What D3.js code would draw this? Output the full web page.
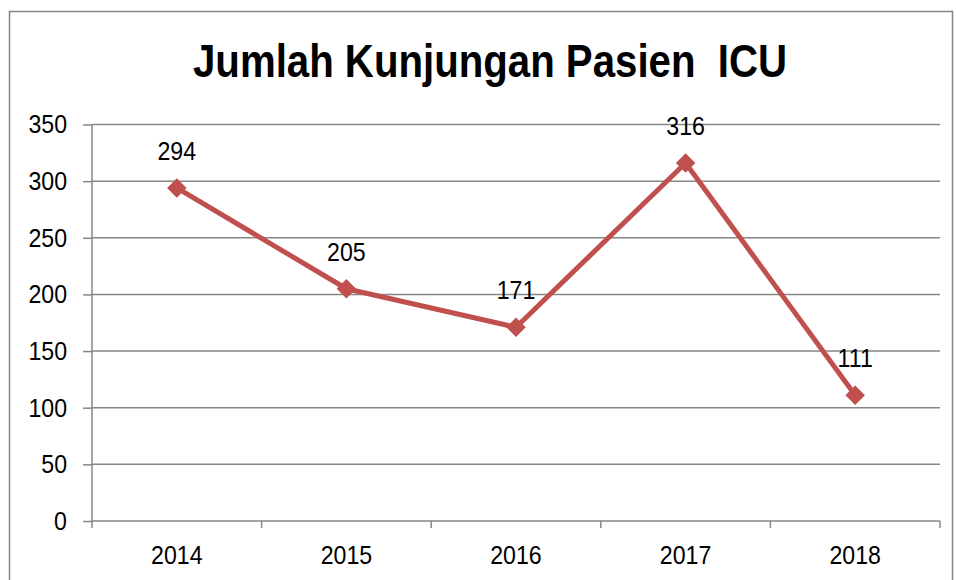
<!DOCTYPE html>
<html>
<head>
<meta charset="utf-8">
<script src="https://cdn.jsdelivr.net/npm/d3@7"></script>
<style>
  body { margin: 0; background: #fff; }
  text { font-family: "Liberation Sans Narrow", "Arial Narrow", "Liberation Sans", sans-serif; }
</style>
</head>
<body>
<div id="chart"></div>
<script>
const years = ["2014", "2015", "2016", "2017", "2018"];
const visits = [294, 205, 171, 316, 111];
const yTicks = [0, 50, 100, 150, 200, 250, 300, 350];
const title = "Jumlah Kunjungan Pasien\u00a0\u00a0ICU";

const width = 956, height = 580;
const margin = {top: 124.5, right: 16, bottom: 59, left: 92};

const svg = d3.select("#chart").append("svg")
    .attr("width", width)
    .attr("height", height);

// squeeze text horizontally, no narrow font installed
const narrow = (sel, k) => sel.each(function () {
    const len = this.getComputedTextLength();
    d3.select(this).attr("textLength", len * k).attr("lengthAdjust", "spacingAndGlyphs");
});

// outer frame
svg.append("rect")
    .attr("x", 9.5).attr("y", 11.5)
    .attr("width", 943).attr("height", 580)
    .attr("fill", "none")
    .attr("stroke", "#868686")
    .attr("stroke-width", 1.5);

const x = d3.scaleBand()
    .domain(years)
    .range([margin.left, width - margin.right]);

const y = d3.scaleLinear()
    .domain([0, 350])
    .range([height - margin.bottom, margin.top]);

// gridlines
svg.append("g")
    .selectAll("line")
    .data(yTicks.slice(1))
    .enter().append("line")
    .attr("x1", margin.left)
    .attr("x2", width - margin.right)
    .attr("y1", d => y(d))
    .attr("y2", d => y(d))
    .style("stroke", "#868686")
    .style("stroke-width", 1.5);

// y axis
const yAxis = svg.append("g")
    .attr("transform", `translate(${margin.left},0)`)
    .call(d3.axisLeft(y).tickValues(yTicks).tickSize(9).tickPadding(16));
yAxis.selectAll("line, path").style("stroke", "#868686").style("stroke-width", 1.5);
yAxis.select(".domain").attr("d", `M0,${y(0)}V${y(350)}`);
yAxis.selectAll("text")
    .style("font-size", "26px")
    .style("fill", "#000")
    .call(narrow, 0.89);

// x axis with ticks at category boundaries
const xAxisG = svg.append("g")
    .attr("transform", `translate(0,${y(0)})`);
xAxisG.append("line")
    .attr("x1", margin.left).attr("x2", width - margin.right)
    .style("stroke", "#868686").style("stroke-width", 1.5);
xAxisG.selectAll(".bound")
    .data(years.map(d => x(d)).concat([x(years[years.length - 1]) + x.bandwidth()]))
    .enter().append("line")
    .attr("class", "bound")
    .attr("x1", d => d).attr("x2", d => d)
    .attr("y1", 0).attr("y2", 7)
    .style("stroke", "#868686").style("stroke-width", 1.5);
xAxisG.selectAll(".lbl")
    .data(years)
    .enter().append("text")
    .attr("class", "lbl")
    .attr("x", d => x(d) + x.bandwidth() / 2)
    .attr("y", 43)
    .attr("text-anchor", "middle")
    .style("font-size", "26px")
    .text(d => d)
    .call(narrow, 0.89);

// line
const pts = years.map((d, i) => ({year: d, value: visits[i]}));
const cx = d => x(d.year) + x.bandwidth() / 2;

svg.append("path")
    .datum(pts)
    .attr("fill", "none")
    .attr("stroke", "#C0504D")
    .attr("stroke-width", 5)
    .attr("stroke-linejoin", "round")
    .attr("d", d3.line().x(cx).y(d => y(d.value)));

svg.append("g")
    .selectAll("path")
    .data(pts)
    .enter().append("path")
    .attr("d", d3.symbol().type(d3.symbolSquare).size(190))
    .attr("transform", d => `translate(${cx(d)},${y(d.value)}) rotate(45)`)
    .attr("fill", "#C0504D");

// data labels
svg.append("g")
    .selectAll("text")
    .data(pts)
    .enter().append("text")
    .attr("x", cx)
    .attr("y", d => y(d.value) - 28)
    .attr("text-anchor", "middle")
    .style("font-size", "26px")
    .text(d => d.value)
    .call(narrow, 0.89);

// title
svg.append("text")
    .attr("x", 490)
    .attr("y", 77)
    .attr("text-anchor", "middle")
    .style("font-size", "47px")
    .style("font-weight", "bold")
    .attr("textLength", 594)
    .attr("lengthAdjust", "spacingAndGlyphs")
    .text(title);
</script>
</body>
</html>
